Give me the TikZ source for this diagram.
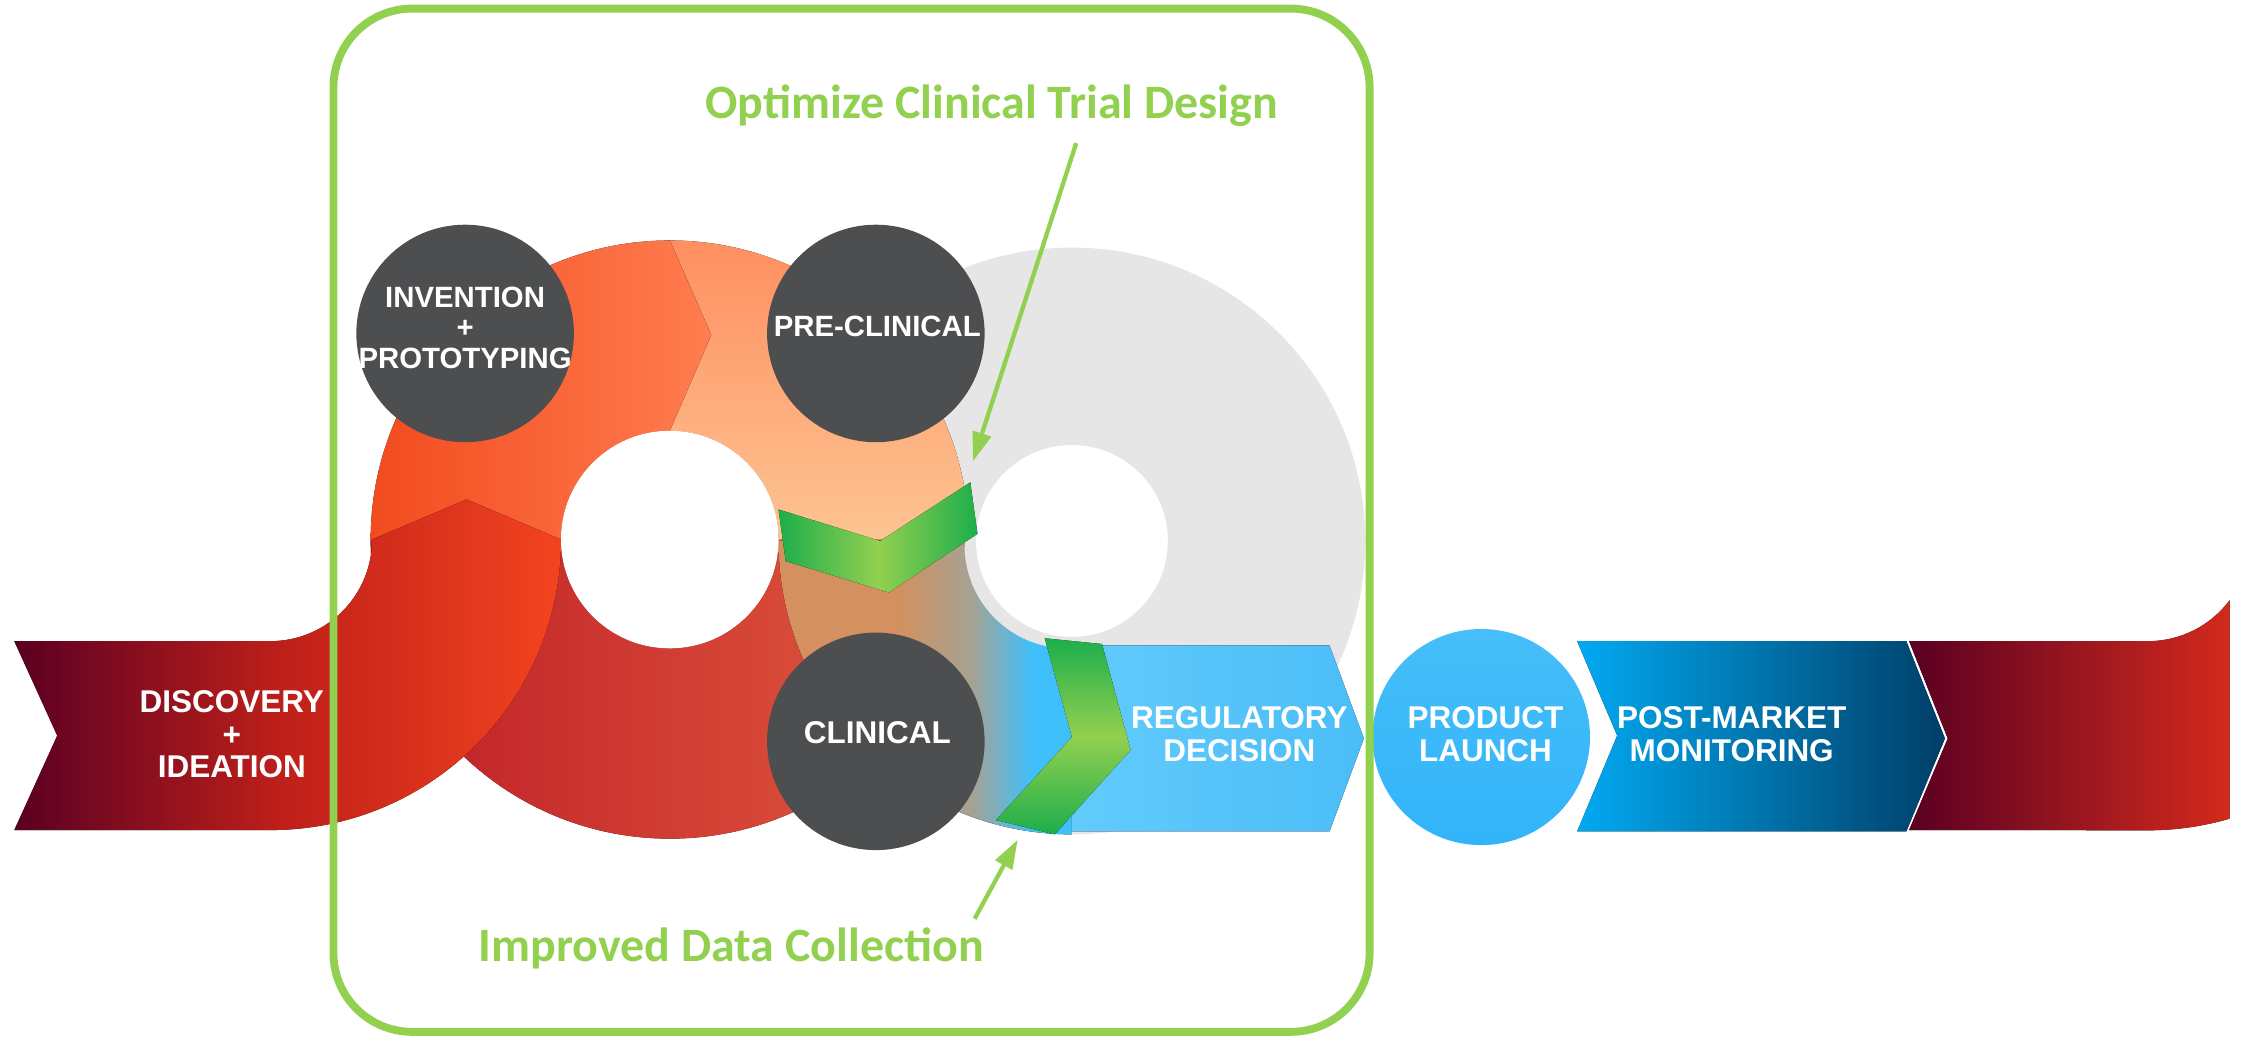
\documentclass[tikz,border=0pt]{standalone}
\usepackage{fontspec}
\setmainfont{Liberation Sans}
\newfontfamily\calibrifont{Carlito}
\usetikzlibrary{shapes.geometric}

\definecolor{limegreen}{RGB}{146,208,80}
\definecolor{darkgreen}{RGB}{29,174,75}
\definecolor{discgray}{RGB}{77,78,80}
\definecolor{ringgray}{RGB}{230,230,230}
\definecolor{maroon}{RGB}{90,0,34}
\definecolor{ribbonmid}{RGB}{192,32,26}
\definecolor{brightred}{RGB}{243,68,31}
\definecolor{deepred}{RGB}{190,30,38}
\definecolor{coral}{RGB}{227,92,64}
\definecolor{orangeL}{RGB}{242,75,30}
\definecolor{orangeR}{RGB}{255,125,80}
\definecolor{peachT}{RGB}{255,143,96}
\definecolor{peachB}{RGB}{253,196,146}
\definecolor{brownish}{RGB}{212,144,94}
\definecolor{blendgray}{RGB}{165,162,148}
\definecolor{skyblue}{RGB}{64,192,250}
\definecolor{lightblue}{RGB}{98,203,252}
\definecolor{regblue}{RGB}{75,189,247}
\definecolor{launchT}{RGB}{70,190,249}
\definecolor{launchB}{RGB}{50,180,250}
\definecolor{postL}{RGB}{2,169,241}
\definecolor{postR}{RGB}{0,62,103}
\definecolor{endred}{RGB}{211,42,28}

\pgfdeclarehorizontalshading{lensblend}{100bp}{color(0bp)=(brownish); color(45bp)=(brownish); color(58bp)=(blendgray); color(68bp)=(skyblue); color(100bp)=(skyblue)}

\begin{document}
\begin{tikzpicture}[x=1pt,y=1pt]
\tikzstyle{every node}+=[inner sep=0pt]
\tikzstyle{disc}=[circle, fill=discgray, minimum size=152pt]
\tikzstyle{stagetext}=[text=white, align=center, font=\fontsize{20.5}{21.5}\selectfont\bfseries]
\tikzstyle{bandtext}=[text=white, align=center, font=\fontsize{22}{22.5}\selectfont\bfseries]
\tikzstyle{greenlabel}=[text=limegreen, font=\calibrifont\fontsize{33.5}{36}\selectfont\bfseries]
\tikzstyle{pointer}=[limegreen, line width=3pt, shorten >=12pt]
\useasboundingbox (0,0) rectangle (1568,-729);

% rings
\fill [ringgray] (749,-378) circle (205);
\fill [left color=deepred, right color=coral] (259,-377) arc (180:360:209) -- (544,-377) arc (0:-180:76) -- cycle;
\fill [shading=lensblend] (544,-378) arc (180:270:205) -- (749,-453) arc (270:180:75) -- cycle;
\fill [ringgray] (746,-381) circle (72);
\fill [top color=peachT, bottom color=peachB] (468,-168) arc (90:0:209) -- (544,-377) arc (0:90:76) -- cycle;
\fill [left color=orangeL, right color=orangeR] (259,-377) arc (180:90:209) -- (497,-234) -- (468,-301) arc (90:180:76) -- cycle;
\fill [left color=maroon, right color=brightred, middle color=ribbonmid] (10,-448) -- (189,-448) arc (270:360:71) -- (326,-349) -- (392,-377) arc (0:-90:203) -- (10,-580) -- (40,-514) -- cycle;
\fill [left color=lightblue, right color=regblue] (749,-451) -- (929,-451) -- (953,-516) -- (929,-581) -- (749,-581) -- cycle;
\fill [white] (468,-377) circle (76);
\fill [white] (749,-378) circle (67);
\fill [left color=darkgreen, right color=darkgreen, middle color=limegreen] (544,-356) -- (615,-378) -- (678,-337) -- (683,-373) -- (621,-414) -- (549,-392) -- cycle;
\fill [top color=darkgreen, bottom color=darkgreen, middle color=limegreen] (730,-446) -- (770,-450) -- (790,-524) -- (737,-583) -- (696,-573) -- (749,-515) -- cycle;

% stages
\node [disc] (invention) at (325,-233) {};
\node [disc] (preclinical) at (612,-233) {};
\node [disc] (clinical) at (612,-518) {};
\node [stagetext] (inventiontext) at (325,-229) {INVENTION\\+\\PROTOTYPING};
\node [stagetext] (preclinicaltext) at (613,-228) {PRE-CLINICAL};
\node [stagetext, font=\fontsize{22}{22}\selectfont\bfseries] (clinicaltext) at (613,-512) {CLINICAL};

% right side
\node [ellipse, minimum width=152pt, minimum height=151pt, top color=launchT, bottom color=launchB] (launch) at (1035,-515) {};
\fill [left color=postL, right color=postR] (1102,-448) -- (1332,-448) -- (1359,-516) -- (1332,-581) -- (1102,-581) -- (1130,-514) -- cycle;
\fill [left color=maroon, right color=endred] (1334,-448) -- (1501,-448) arc (270:323.4:71) -- (1558,-572) arc (286.3:270:203) -- (1334,-580) -- (1361,-516) -- cycle;

\node [bandtext] (discovery) at (162,-513) {DISCOVERY\\+\\IDEATION};
\node [bandtext] (regulatory) at (866,-513) {REGULATORY\\DECISION};
\node [bandtext] (launchtext) at (1038,-513) {PRODUCT\\LAUNCH};
\node [bandtext] (postmarket) at (1210,-513) {POST-MARKET\\MONITORING};

% frame
\draw [limegreen, line width=5.5pt, rounded corners=55pt] (233,-6) rectangle (957,-721);
\node [greenlabel] (optimize) at (693,-74) {Optimize Clinical Trial Design};
\node [greenlabel] (improved) at (511,-663) {Improved Data Collection};
\coordinate (opttail) at (752,-100);
\coordinate (opttip) at (680,-322);
\coordinate (datatail) at (681,-642);
\coordinate (datatip) at (711,-587);
\draw [pointer] (opttail) -- (opttip);
\fill [limegreen] (opttip) -- ++(12.8,16.9) -- ++(-13.3,4.3) -- cycle;
\draw [pointer] (datatail) -- (datatip);
\fill [limegreen] (datatip) -- ++(-3.6,-20.9) -- ++(-12.2,6.8) -- cycle;
\end{tikzpicture}
\end{document}
